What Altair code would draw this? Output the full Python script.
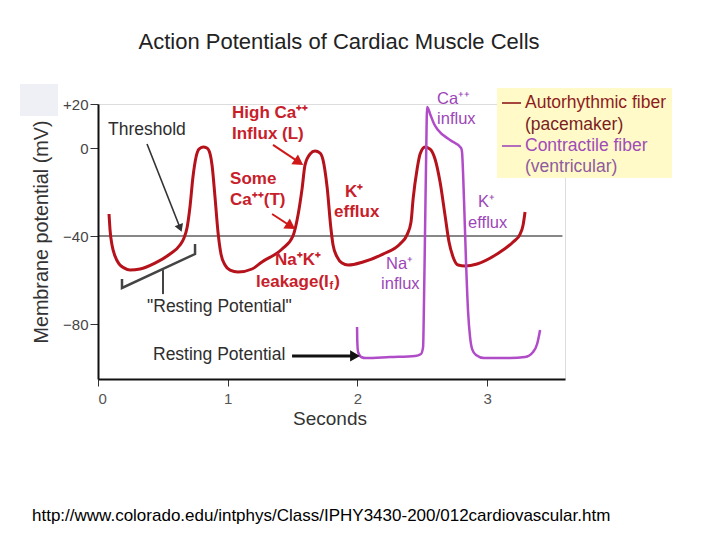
import math
import altair as alt
import pandas as pd

# ---------------- data ----------------
# Autorhythmic (pacemaker) fiber: time (s), membrane potential (mV)
pm_t = [0.085, 0.093, 0.108, 0.131, 0.162, 0.200, 0.247, 0.324, 0.439, 0.555, 0.632, 0.663,
        0.686, 0.709, 0.732, 0.756, 0.779, 0.810, 0.840, 0.864, 0.879, 0.902, 0.925, 0.948,
        0.979, 1.018, 1.079, 1.187, 1.264, 1.419, 1.503, 1.542, 1.573, 1.596, 1.635, 1.673,
        1.712, 1.735, 1.766, 1.796, 1.812, 1.843, 1.881, 1.928, 2.043, 2.197, 2.328, 2.382,
        2.413, 2.429, 2.460, 2.483, 2.521, 2.560, 2.598, 2.637, 2.675, 2.706, 2.737, 2.776,
        2.830, 2.922, 3.076, 3.200, 3.254, 3.277, 3.292]
pm_v = [-30.0, -37.3, -44.1, -49.1, -52.7, -54.5, -55.5, -55.0, -52.3, -48.2, -44.1, -40.9,
        -36.4, -26.8, -13.2, -4.1, -0.5, 0.5, 0.0, -2.7, -7.7, -22.3, -38.2, -48.2,
        -53.2, -55.5, -56.4, -55.0, -51.8, -45.9, -40.0, -30.5, -18.6, -7.7, -2.7, -1.4,
        -2.3, -5.5, -17.7, -36.8, -44.1, -49.5, -52.3, -53.2, -51.8, -48.2, -43.6, -39.5,
        -33.6, -23.2, -9.5, -2.7, 0.5, -0.5, -5.0, -15.5, -30.5, -42.7, -49.5, -53.2,
        -53.6, -52.7, -48.2, -42.7, -39.1, -35.0, -29.1]

# Contractile (ventricular) fiber
ct_t = [1.997, 1.999, 2.005, 2.028, 2.066, 2.251, 2.444, 2.490, 2.506, 2.513, 2.521, 2.529,
        2.537, 2.560, 2.591, 2.621, 2.714, 2.799, 2.806, 2.822, 2.837, 2.853, 2.868, 2.884,
        2.914, 2.976, 3.177, 3.292, 3.354, 3.385, 3.408]
ct_v = [-81.4, -88.2, -92.7, -95.0, -95.5, -95.0, -94.5, -93.6, -90.5, -70.0, -38.2, -6.4,
        18.6, 15.5, 10.9, 8.2, 3.6, 0.0, -1.8, -24.5, -51.8, -74.5, -85.9, -91.4,
        -94.1, -95.5, -95.5, -95.0, -92.7, -89.1, -82.7]

threshold_mv = -40
y_ticks = [20, 0, -40, -80]
x_ticks = [0, 1, 2, 3]

title_text = "Action Potentials of Cardiac Muscle Cells"
y_title = "Membrane potential (mV)"
x_title = "Seconds"
source_text = "http://www.colorado.edu/intphys/Class/IPHY3430-200/012cardiovascular.htm"

# annotation labels (text, time s, mV)
red_labels = ["High Ca⁺⁺", "Influx (L)", "Some", "Ca⁺⁺(T)", "K⁺", "efflux", "Na⁺K⁺", "leakage(I"]
red_t = [1.033, 1.033, 1.018, 1.018, 1.904, 1.820, 1.365, 1.218]
red_v = [15.9, 6.4, -14.1, -23.6, -20.0, -29.1, -50.8, -60.8]

purple_labels = ["Ca⁺⁺", "influx", "K⁺", "efflux", "Na⁺", "influx"]
purple_t = [2.614, 2.614, 2.930, 2.853, 2.220, 2.182]
purple_v = [22.3, 13.2, -24.5, -34.1, -52.7, -61.8]

gray_labels = ["Threshold", "\"Resting Potential\"", "Resting Potential"]
gray_t = [0.077, 0.378, 0.424]
gray_v = [8.2, -72.3, -94.1]

# arrows: start (t, v) -> end (t, v)
arrow_names = ["threshold", "highca", "someca", "resting"]
arrow_t1 = [0.378, 1.349, 1.342, 1.496]
arrow_v1 = [1.8, 1.4, -30.0, -94.5]
arrow_t2 = [0.648, 1.581, 1.519, 2.020]
arrow_v2 = [-38.6, -7.7, -36.8, -94.5]

# "Resting Potential" bracket
bracket_t = [0.185, 0.185, 0.748, 0.748]
bracket_v = [-59.5, -63.6, -48.2, -43.6]
stem_t = [0.501]
stem_v1 = [-55.5]
stem_v2 = [-66.4]

legend_labels = ["Autorhythmic fiber", "(pacemaker)", "Contractile fiber", "(ventricular)"]

# ---------------- layout ----------------
W, H = 467, 275
X_DOM = [0, 3.6]
Y_DOM = [-105, 20]
PX_T = W / (X_DOM[1] - X_DOM[0])
PX_V = H / (Y_DOM[1] - Y_DOM[0])

RED = "#B5121B"
PURPLE = "#B04CC8"
RED_TXT = "#C8202A"
PURPLE_TXT = "#9C45B8"
FONT = "Liberation Sans"

xs = alt.Scale(domain=X_DOM, nice=False, zero=False)
ys = alt.Scale(domain=Y_DOM, nice=False, zero=False)
x_axis = alt.Axis(values=x_ticks, title=None, grid=False, tickSize=7, tickColor="#333",
                  domainColor="#111", domainWidth=2, labelFontSize=15, labelColor="#555",
                  labelPadding=5, labelFont=FONT)
y_axis = alt.Axis(values=y_ticks, title=None, grid=False, tickSize=8, tickColor="#333",
                  domainColor="#111", domainWidth=2, labelFontSize=15, labelColor="#444",
                  labelPadding=2, labelFont=FONT,
                  labelExpr="datum.value > 0 ? '+' + datum.value : (datum.value < 0 ? '\u2212' + abs(datum.value) : '0')")
X = alt.X("t:Q", scale=xs, axis=x_axis)
Y = alt.Y("v:Q", scale=ys, axis=y_axis)

pm_df = pd.DataFrame({"t": pm_t, "v": pm_v})
ct_df = pd.DataFrame({"t": ct_t, "v": ct_v})

one = pd.DataFrame({"a": [0]})

legend_box = alt.Chart(one).mark_rect(color="#FFFAC8").encode(
    x=alt.value(399), x2=alt.value(574), y=alt.value(-16), y2=alt.value(74))
corner_box = alt.Chart(one).mark_rect(color="#EEF0F5").encode(
    x=alt.value(-78), x2=alt.value(-40), y=alt.value(-20), y2=alt.value(12))

thr_df = pd.DataFrame({"t": [X_DOM[0]], "t2": [3.58], "v": [threshold_mv]})
thr_line = alt.Chart(thr_df).mark_rule(color="#111", strokeWidth=1.2).encode(x=X, x2="t2:Q", y=Y)

pm_line = alt.Chart(pm_df).mark_line(color=RED, strokeWidth=3, interpolate="monotone").encode(x=X, y=Y)
ct_line = alt.Chart(ct_df).mark_line(color=PURPLE, strokeWidth=2.5, interpolate="monotone").encode(x=X, y=Y)

# arrows
rows = []
for n, a, b, c, d in zip(arrow_names, arrow_t1, arrow_v1, arrow_t2, arrow_v2):
    dx = (c - a) * PX_T
    dy = -(d - b) * PX_V
    L = math.hypot(dx, dy)
    ux, uy = dx / L, dy / L
    back = 5.0
    ht = c - ux * back / PX_T
    hv = d + uy * back / PX_V
    ang = math.degrees(math.atan2(dx, -dy)) % 360
    rows.append({"name": n, "t": a, "v": b, "t2": ht, "v2": hv, "ht": ht, "hv": hv, "ang": ang})
arr_df = pd.DataFrame(rows)

def arrow_layer(name, color, width, size):
    d = arr_df[arr_df["name"] == name]
    line = alt.Chart(d).mark_rule(color=color, strokeWidth=width).encode(x=X, y=Y, x2="t2:Q", y2="v2:Q")
    head = alt.Chart(d).mark_point(shape="triangle-up", filled=True, opacity=1, color=color, size=size).encode(
        x=alt.X("ht:Q", scale=xs, axis=x_axis), y=alt.Y("hv:Q", scale=ys, axis=y_axis),
        angle=alt.Angle("ang:Q", scale=None))
    return line + head

arrows = (arrow_layer("threshold", "#333", 1.6, 80) + arrow_layer("highca", "#D01818", 2, 140)
          + arrow_layer("someca", "#D01818", 2, 140) + arrow_layer("resting", "#111", 3, 130))

br_df = pd.DataFrame({"t": bracket_t, "v": bracket_v, "o": list(range(len(bracket_t)))})
bracket = alt.Chart(br_df).mark_line(color="#444", strokeWidth=2.5).encode(x=X, y=Y, order="o:Q")
stem_df = pd.DataFrame({"t": stem_t, "v": stem_v1, "v2": stem_v2})
stem = alt.Chart(stem_df).mark_rule(color="#444", strokeWidth=2).encode(x=X, y=Y, y2="v2:Q")

def labels(texts, ts, vs, color, size, weight):
    d = pd.DataFrame({"label": texts, "t": ts, "v": vs})
    return alt.Chart(d).mark_text(align="left", baseline="middle", font=FONT, fontSize=size,
                                  fontWeight=weight, color=color).encode(x=X, y=Y, text="label:N")

red_txt = labels(red_labels, red_t, red_v, RED_TXT, 17, "bold")
# subscript f and closing paren of leakage(If)
sub_df = pd.DataFrame({"label": ["f", ")"], "t": [1.785, 1.822], "v": [-62.8, -60.8]})
sub_txt = alt.Chart(sub_df).mark_text(align="left", baseline="middle", font=FONT,
                                      fontWeight="bold", color=RED_TXT).encode(
    x=X, y=Y, text="label:N",
    size=alt.Size("label:N", scale=alt.Scale(domain=["f", ")"], range=[11, 17]), legend=None))
purple_txt = labels(purple_labels, purple_t, purple_v, PURPLE_TXT, 16.5, "normal")
gray_txt = labels(gray_labels, gray_t, gray_v, "#2E2E2E", 17.5, "normal")

def fixed_text(txt, x, y, size, color, align="center", angle=0, weight="normal", font=FONT):
    return alt.Chart(one).mark_text(text=txt, align=align, baseline="middle", fontSize=size,
                                    color=color, angle=angle, fontWeight=weight, font=font).encode(
        x=alt.value(x), y=alt.value(y))

title = fixed_text(title_text, 241, -62, 22, "#222")
ytitle = fixed_text(y_title, -56, 128, 19.8, "#333", angle=270)
xtitle = fixed_text(x_title, 232, 315, 19, "#333")
footer = fixed_text(source_text, -66, 412, 17, "#000", align="left")

dash1 = alt.Chart(one).mark_rule(color="#8E1C1C", strokeWidth=1.6).encode(
    x=alt.value(404), x2=alt.value(423), y=alt.value(-1))
dash2 = alt.Chart(one).mark_rule(color="#A04CB8", strokeWidth=1.6).encode(
    x=alt.value(404), x2=alt.value(423), y=alt.value(42))
leg1 = fixed_text(legend_labels[0], 427, -1, 17.5, "#8E1C1C", align="left")
leg2 = fixed_text(legend_labels[1], 427, 21, 17.5, "#7A1E1E", align="left")
leg3 = fixed_text(legend_labels[2], 427, 42, 17.5, "#A04CB8", align="left")
leg4 = fixed_text(legend_labels[3], 427, 63, 17.5, "#8E5A9E", align="left")

chart = alt.layer(
    corner_box, legend_box, thr_line, bracket, stem, pm_line, ct_line, arrows,
    red_txt, sub_txt, purple_txt, gray_txt, title, ytitle, xtitle, footer,
    dash1, dash2, leg1, leg2, leg3, leg4
).properties(
    width=W, height=H,
    autosize=alt.AutoSizeParams(type="none"),
    padding={"left": 90, "top": 96, "right": 147, "bottom": 153},
).configure_view(stroke=None).configure(background="white")

chart.save("out.html", embed_options={"renderer": "svg", "actions": False})
